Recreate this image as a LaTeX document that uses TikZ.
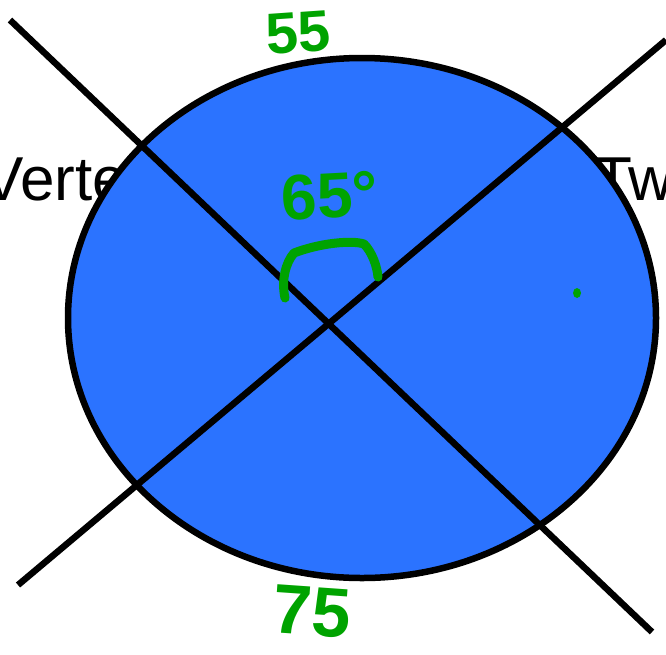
\documentclass[tikz,border=0pt]{standalone}
\usepackage{fontspec}
\setmainfont{Liberation Sans}
\usetikzlibrary{positioning}

\definecolor{discblue}{HTML}{2B73FF}
\definecolor{penGreen}{HTML}{00A300}

\tikzset{
  word/.style={font=\fontsize{62}{62}\selectfont, text=black, inner sep=0pt},
  scrawl/.style={font=\bfseries\fontsize{58}{58}\selectfont, text=penGreen, inner sep=0pt},
  ink/.style={penGreen, line width=9pt, line cap=round, line join=round}
}

\begin{document}
\begin{tikzpicture}[x=1pt,y=-1pt]
  % --- picture size (pixels of the reference) ---
  \def\W{666}
  \def\H{654}
  \def\lw{6.5pt}% width of the black strokes

  \useasboundingbox (0,0) rectangle (\W,\H);
  \clip (0,0) rectangle (\W,\H);

  % --- words behind the disc ---
  \node[word, anchor=base west] (vert) at (-18,200) {Verte};
  \node[word, anchor=base west] (two) at (594,200) {Two};

  % --- the disc ---
  \draw[fill=discblue, line width=\lw] (362,318) ellipse (294 and 260);

  % --- the two crossing lines ---
  \draw[line width=\lw] (10,20) -- (652,632);
  \draw[line width=\lw] (18,585) -- (666,40);

  % --- green marks ---
  \node[scrawl, rotate=4] (top) at (298,33) {55};
  \node[scrawl, font=\bfseries\fontsize{64}{64}\selectfont, rotate=3] (ang) at (330,196) {65\textdegree};
  \node[scrawl, font=\bfseries\fontsize{70}{70}\selectfont, rotate=-4] (bot) at (312,612) {75};

  \draw[ink] (285,298) .. controls (281,280) and (286,262) .. (294,253)
    .. controls (320,243) and (352,240) .. (364,244)
    .. controls (372,252) and (377,266) .. (378,277);
  \fill[penGreen] (577,293) ellipse (4 and 5);
\end{tikzpicture}
\end{document}
